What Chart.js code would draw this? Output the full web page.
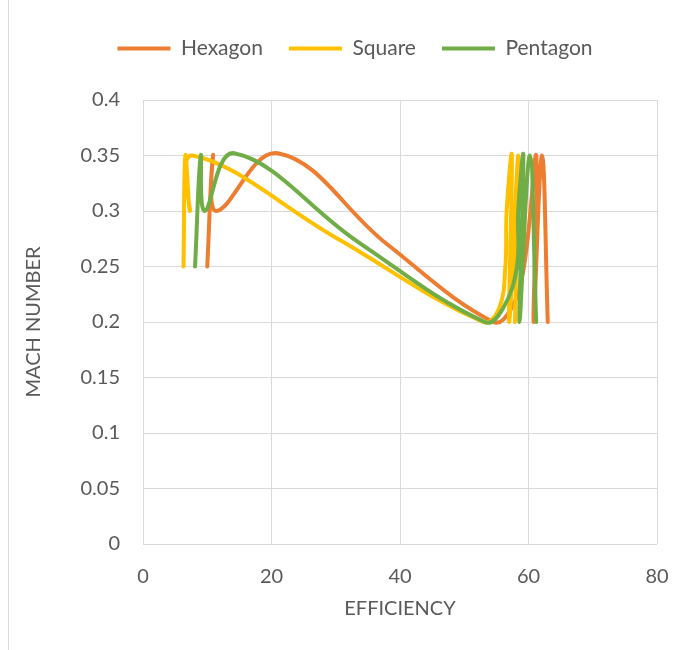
<!DOCTYPE html>
<html>
<head>
<meta charset="utf-8">
<script src="https://cdn.jsdelivr.net/npm/chart.js@4.4.0/dist/chart.umd.min.js"></script>
<style>
  html, body { margin: 0; padding: 0; background: #fff; overflow: hidden; }
  #wrap { position: absolute; left: 8px; top: 0; width: 697px; height: 650px; border-left: 1px solid #d9d9d9; }
  canvas { display: block; }
</style>
</head>
<body>
<div id="wrap"><canvas id="chart" width="697" height="650"></canvas></div>
<script>
// values
const hexagonEff  = [10.0, 10.9, 11.4, 21.0, 38.0, 54.5, 57.3, 59.3, 61.2, 60.8, 62.1, 63.0];
const hexagonMach = [0.25, 0.35, 0.30, 0.352, 0.27, 0.20, 0.212, 0.25, 0.35, 0.20, 0.35, 0.20];

const squareEff  = [6.3, 6.6, 7.3, 7.7, 30.3, 52.9, 55.4, 56.4, 56.6, 57.4, 57.0, 58.4, 57.9];
const squareMach = [0.25, 0.35, 0.30, 0.35, 0.275, 0.20, 0.212, 0.25, 0.30, 0.35, 0.20, 0.35, 0.20];

const pentagonEff  = [8.1, 9.0, 9.6, 14.2, 33.5, 53.2, 56.0, 58.2, 58.4, 59.2, 58.6, 60.2, 61.2];
const pentagonMach = [0.25, 0.35, 0.30, 0.352, 0.272, 0.20, 0.212, 0.25, 0.30, 0.35, 0.20, 0.35, 0.20];

const xTickValues = [0, 20, 40, 60, 80];
const yTickValues = [0, 0.05, 0.1, 0.15, 0.2, 0.25, 0.3, 0.35, 0.4];

const textColor = '#595959';
const gridColor = '#d9d9d9';

function toPoints(xs, ys) {
  return xs.map((x, i) => ({ x: x, y: ys[i] }));
}

function lineSeries(label, xs, ys, color, order) {
  return {
    label: label,
    data: toPoints(xs, ys),
    showLine: true,
    borderColor: color,
    backgroundColor: color,
    borderWidth: 4,
    borderCapStyle: 'round',
    borderJoinStyle: 'round',
    pointRadius: 0,
    pointHoverRadius: 0,
    tension: 0.4,
    order: order
  };
}

// legend spacing like the original: push it down and to the right a bit
const legendPlace = {
  id: 'legendPlace',
  beforeInit(chart) {
    const fit = chart.legend.fit;
    chart.legend.fit = function () {
      fit.call(chart.legend);
      this.height += 31;
    };
  },
  afterLayout(chart) {
    chart.legend.left += 22;
    chart.legend.right += 22;
  }
};

const ctx = document.getElementById('chart').getContext('2d');
new Chart(ctx, {
  type: 'scatter',
  data: {
    datasets: [
      lineSeries('Hexagon', hexagonEff, hexagonMach, '#ED7D31', 3),
      lineSeries('Square', squareEff, squareMach, '#FFC000', 2),
      lineSeries('Pentagon', pentagonEff, pentagonMach, '#70AD47', 1)
    ]
  },
  options: {
    responsive: false,
    animation: false,
    layout: { padding: { top: 12, right: 49, bottom: 0, left: 0 } },
    plugins: {
      legend: {
        position: 'top',
        labels: {
          usePointStyle: true,
          pointStyle: 'line',
          pointStyleWidth: 53,
          padding: 26,
          color: textColor,
          font: { family: 'Lato', size: 21 },
          sort: (a, b) => a.datasetIndex - b.datasetIndex
        }
      },
      tooltip: { enabled: false }
    },
    scales: {
      x: {
        type: 'linear',
        min: 0,
        max: 80,
        afterBuildTicks: s => { s.ticks = xTickValues.map(v => ({ value: v })); },
        afterFit: s => { s.height = 106; },
        ticks: {
          padding: 21,
          color: textColor,
          font: { family: 'Lato', size: 20 },
          callback: v => String(v)
        },
        grid: { color: gridColor, drawTicks: false },
        border: { display: false },
        title: {
          display: true,
          text: 'EFFICIENCY',
          color: textColor,
          font: { family: 'Lato', size: 20 },
          padding: { top: 0, bottom: 29 }
        }
      },
      y: {
        type: 'linear',
        min: 0,
        max: 0.4,
        afterBuildTicks: s => { s.ticks = yTickValues.map(v => ({ value: v })); },
        afterFit: s => { s.width = 134; },
        ticks: {
          padding: 23,
          color: textColor,
          font: { family: 'Lato', size: 20 },
          callback: v => String(+v.toFixed(2))
        },
        grid: { color: gridColor, drawTicks: false },
        border: { display: false },
        title: {
          display: true,
          text: 'MACH NUMBER',
          color: textColor,
          font: { family: 'Lato', size: 20 },
          padding: { top: 13, bottom: 0 }
        }
      }
    }
  },
  plugins: [legendPlace]
});
</script>
</body>
</html>
